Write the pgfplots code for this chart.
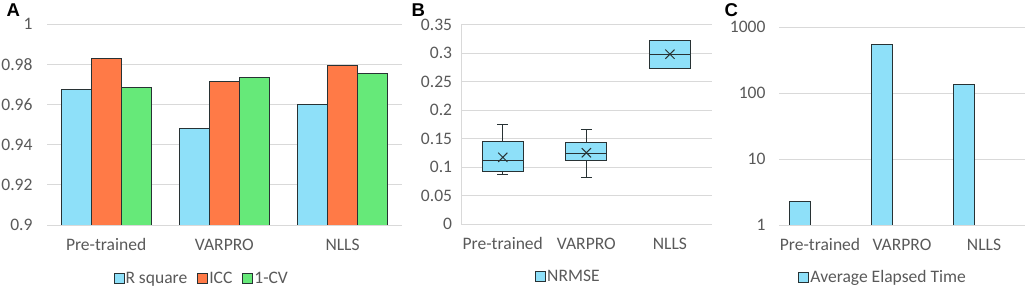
\documentclass[border=0pt]{standalone}
\usepackage{fontspec}
\setmainfont{Carlito}
\newfontfamily\panelfont{Liberation Sans}
\usepackage{pgfplots}
\pgfplotsset{compat=1.18}
\usepgfplotslibrary{statistics}
\definecolor{cyanC}{RGB}{142,224,249}
\definecolor{orangeC}{RGB}{255,122,71}
\definecolor{greenC}{RGB}{102,233,121}
\definecolor{edgeC}{RGB}{40,50,52}
\definecolor{gridC}{RGB}{217,217,217}
\definecolor{tickC}{RGB}{89,89,89}
\pgfplotsset{
  common/.style={
    scale only axis,
    anchor=south west,
    xmin=-0.5, xmax=2.5,
    xtick={0,1,2},
    xticklabels={Pre-trained,VARPRO,NLLS},
    major tick length=0pt,
    minor tick length=0pt,
    tick style={draw=none},
    axis line style={draw=none},
    ymajorgrids,
    major grid style={draw=gridC, line width=1bp},
    ticklabel style={font=\fontsize{17.6}{20}\selectfont, text=tickC},
    xticklabel style={anchor=base, yshift=-25bp},
    legend columns=3,
    legend style={draw=none, fill=none, inner sep=0pt, outer sep=0pt, anchor=west,
      font=\fontsize{17.6}{20}\selectfont, text=tickC,
      nodes={inner xsep=1bp, inner ysep=1bp}, column sep=0pt,
      /tikz/every even column/.append style={column sep=9bp}},
    legend cell align=left,
  },
}
\begin{document}
\begin{tikzpicture}
\path[use as bounding box] (0,0) rectangle (1026bp,289bp);

% Panel A
\begin{axis}[common,
  at={(47bp,64bp)}, width=354.7bp, height=200.7bp,
  ymin=0.9, ymax=1,
  ytick={0.9,0.92,0.94,0.96,0.98,1},
  yticklabels={0.9,0.92,0.94,0.96,0.98,1},
  yticklabel style={xshift=-11bp},
  ybar=0pt, bar width=0.254,
  legend image code/.code={\draw[#1, line width=1bp] (0bp,-5bp) rectangle (10bp,5bp);},
  legend style={at={(0.1875,-0.269)}},
]
\addplot[bar shift=-0.254, fill=cyanC, draw=edgeC, line width=1bp] coordinates {(0,0.9676) (1,0.9483) (2,0.9601)};
\addplot[bar shift=0, fill=orangeC, draw=edgeC, line width=1bp] coordinates {(0,0.9832) (1,0.9717) (2,0.9796)};
\addplot[bar shift=0.254, fill=greenC, draw=edgeC, line width=1bp] coordinates {(0,0.9683) (1,0.9737) (2,0.9754)};
\legend{R square, ICC, 1-CV}
\end{axis}

% Panel B
\begin{axis}[common,
  at={(461bp,65bp)}, width=250.7bp, height=199.5bp,
  axis lines*=left,
  x axis line style={draw=none},
  y axis line style={draw=gridC, line width=1bp},
  ymin=0, ymax=0.35,
  ytick={0,0.05,0.1,0.15,0.2,0.25,0.3,0.35},
  yticklabels={0,0.05,0.1,0.15,0.2,0.25,0.3,0.35},
  yticklabel style={xshift=-5.4bp},
  boxplot/draw direction=y,
  boxplot/every average/.style={/tikz/mark=x, /tikz/mark size=6.5bp, /tikz/draw=black, /tikz/line width=1bp},
  legend image code/.code={\draw[fill=cyanC, draw=edgeC, line width=1bp] (0bp,-5bp) rectangle (10bp,5bp);},
  legend style={at={(0.296,-0.264)}},
]
\addplot[fill=cyanC, draw=edgeC, line width=1bp, boxplot prepared={draw position=0,
  lower whisker=0.086, lower quartile=0.0924, median=0.111,
  upper quartile=0.1439, upper whisker=0.1754, average=0.117,
  box extend=0.49, whisker extend=0.13}] coordinates {};
\addplot[fill=cyanC, draw=edgeC, line width=1bp, boxplot prepared={draw position=1,
  lower whisker=0.082, lower quartile=0.111, median=0.1234,
  upper quartile=0.1433, upper whisker=0.166, average=0.125,
  box extend=0.49, whisker extend=0.13}] coordinates {};
\addplot[fill=cyanC, draw=edgeC, line width=1bp, boxplot prepared={draw position=2,
  lower whisker=0.2725, lower quartile=0.2725, median=0.2977,
  upper quartile=0.3216, upper whisker=0.3216, average=0.298,
  box extend=0.49, whisker extend=0.13}] coordinates {};
\legend{NRMSE}
\end{axis}

% Panel C
\begin{axis}[common,
  at={(779bp,64bp)}, width=246bp, height=198bp,
  ymode=log, ymin=1, ymax=1000,
  ytick={1,10,100,1000},
  yticklabels={1,10,100,1000},
  minor ytick={},
  yticklabel style={xshift=-10bp},
  ybar=0pt, bar width=0.256,
  legend image code/.code={\draw[fill=cyanC, draw=edgeC, line width=1bp] (0bp,-5bp) rectangle (10bp,5bp);},
  legend style={at={(0.079,-0.263)}},
]
\addplot[bar shift=-0.24, fill=cyanC, draw=edgeC, line width=1bp] coordinates {(0,2.26) (1,552) (2,136)};
\legend{Average Elapsed Time}
\end{axis}

\node[anchor=base west, font=\panelfont\bfseries\fontsize{18.6}{20}\selectfont] at (3bp,272bp) {A};
\node[anchor=base west, font=\panelfont\bfseries\fontsize{18.6}{20}\selectfont] at (408bp,272bp) {B};
\node[anchor=base west, font=\panelfont\bfseries\fontsize{18.6}{20}\selectfont] at (721bp,272bp) {C};
\end{tikzpicture}
\end{document}
